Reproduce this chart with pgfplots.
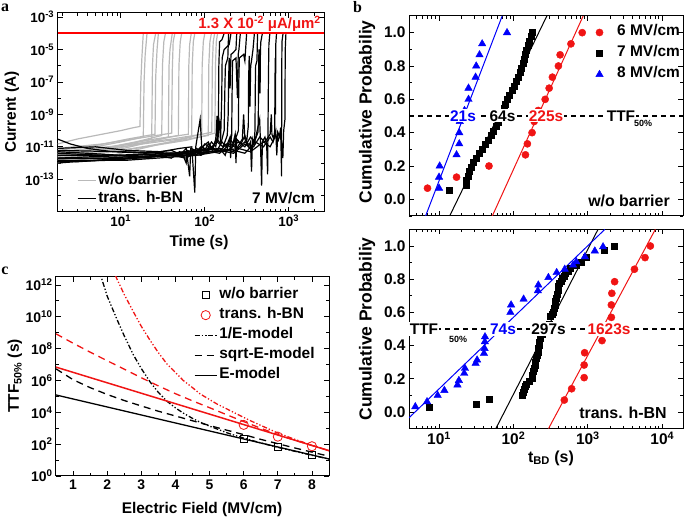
\documentclass[border=0pt]{standalone}
\usepackage{fontspec}
\setmainfont{Liberation Sans}
\newfontfamily\serifb{Liberation Serif}
\usepackage{pgfplots}
\pgfplotsset{compat=1.18}
\newcommand{\fs}[1]{\fontsize{#1}{#1}\selectfont\bfseries}
\definecolor{lg}{RGB}{185,185,185}
\definecolor{rd}{RGB}{240,20,20}
\definecolor{bl}{RGB}{0,0,250}
\pgfplotsset{myax/.style={scale only axis, anchor=south west, tick align=inside,
  major tick length=5bp, minor tick length=3bp,
  axis line style={line width=1bp}, tick style={line width=0.8bp, black},
  clip=true}}
\begin{document}
\begin{tikzpicture}
\useasboundingbox (0,0) rectangle (685bp,519bp);
% ---------------- panel a ----------------
\begin{axis}[myax, at={(57.7bp,307.3bp)}, width=266.6bp, height=199bp,
  xmode=log, ymode=log, xmin=1.77, xmax=2650, ymin=1e-15, ymax=1.86e-3,
  xtick={10,100,1000}, xticklabels={10\textsuperscript{1},10\textsuperscript{2},10\textsuperscript{3}},
  minor xtick={2,3,4,5,6,7,8,9,20,30,40,50,60,70,80,90,200,300,400,500,600,700,800,900,2000},
  ytick={1e-13,1e-11,1e-9,1e-7,1e-5,1e-3},
  yticklabels={10\textsuperscript{-13},10\textsuperscript{-11},10\textsuperscript{-9},10\textsuperscript{-7},10\textsuperscript{-5},10\textsuperscript{-3}},
  minor ytick={1e-14,1e-12,1e-10,1e-8,1e-6,1e-4},
  tick label style={font=\fs{13.5}},
  legend style={draw=none, fill=none, at={(rel axis cs:0.072,0.205)}, anchor=north west, inner sep=0pt, row sep=0bp,
    nodes={inner sep=2bp, text height=11bp, text depth=3bp, font=\fs{15.5}}},
  legend cell align=left,
  legend image code/.code={\draw[#1] (0bp,0bp) -- (18bp,0bp);},
  every axis plot/.append style={line width=1.2bp}]
\addplot[lg] coordinates {(1.77,1.5e-11)(3,3e-11)(6,6e-11)(10,1e-10)(14,1.5e-10)(16.9,1.8e-10)(17.3,1e-7)(17.8,3e-6)(18.5,1e-4)};
\addlegendentry{w/o barrier}
\addplot[black] coordinates {(1.77,1.5e-12)(3,1.2e-12)(6,1.5e-12)(12,2e-12)(25,3e-12)(40,2e-12)(50,5e-12)(65,3e-12)(80,8e-12)(95,4e-12)(110,1.5e-11)(125,8e-12)(135,3e-11)(140,8e-10)(142,2e-11)(145,5e-11)(147,1e-6)(150,3e-5)(160,4e-5)(170,1e-4)};
\addlegendentry{trans. h-BN}
\addplot[lg,forget plot] coordinates {(1.77,4e-12)(4,8e-12)(10,2e-11)(18.5,4e-11)(18.9,1e-7)(19.5,5e-6)(20.5,1e-4)};
\addplot[lg,forget plot] coordinates {(1.77,2e-12)(5,5e-12)(12,1.5e-11)(23.3,3e-11)(23.8,1e-6)(24.5,2e-5)(26,1e-4)};
\addplot[lg,forget plot] coordinates {(1.77,6e-12)(5,1.2e-11)(12,3e-11)(25.5,6e-11)(26,2e-7)(27,1e-5)(28,1e-4)};
\addplot[lg,forget plot] coordinates {(1.77,3e-12)(6,8e-12)(15,2e-11)(30.7,5e-11)(31.3,1e-6)(32.5,3e-5)(34,1e-4)};
\addplot[lg,forget plot] coordinates {(1.77,1.5e-12)(6,4e-12)(15,1.2e-11)(36.8,4e-11)(37.5,1e-6)(38.5,1e-5)(41,1e-4)};
\addplot[lg,forget plot] coordinates {(1.77,8e-12)(6,1.5e-11)(20,4e-11)(40.3,7e-11)(41,5e-7)(42,3e-5)(44,1e-4)};
\addplot[lg,forget plot] coordinates {(1.77,2.5e-12)(8,7e-12)(20,2e-11)(48.4,5e-11)(49.2,1e-6)(51,3e-5)(53,1e-4)};
\addplot[lg,forget plot] coordinates {(1.77,3.5e-12)(8,1e-11)(25,3e-11)(63.7,6e-11)(64.5,1e-6)(66,2e-5)(69,1e-4)};
\addplot[lg,forget plot] coordinates {(1.77,1e-12)(8,3e-12)(30,1.5e-11)(69.8,4e-11)(70.8,1e-6)(73,3e-5)(76,1e-4)};
\addplot[lg,forget plot] coordinates {(1.77,5e-12)(10,1.2e-11)(40,3e-11)(91.8,6e-11)(93,1e-6)(96,3e-5)(100,1e-4)};
\addplot[lg,forget plot] coordinates {(1.77,2e-12)(10,6e-12)(40,2e-11)(110,5e-11)(111.5,1e-6)(115,3e-5)(120,1e-4)};
\addplot[lg,forget plot] coordinates {(1.77,4e-12)(10,1e-11)(50,3e-11)(121,8e-11)(123,1e-6)(126,3e-5)(131,1e-4)};
\addplot[lg,forget plot] coordinates {(1.77,2e-12)(15,8e-12)(60,2.5e-11)(132,7e-11)(134,1e-6)(137,3e-5)(142,1e-4)};
\addplot[black,forget plot] coordinates {(1.77,3e-11)(2.5,1.5e-11)(4,8e-12)(8,5e-12)(20,4e-12)(40,6e-12)(55,3e-12)(60,1e-12)(62,6e-12)(75,4e-12)(90,1e-11)(105,6e-12)(120,2e-11)(135,1e-11)(150,3e-10)(154,2e-11)(159,1e-8)(161,3e-6)(170,1e-5)(195,2e-5)(205,1e-4)};
\addplot[black,forget plot] coordinates {(1.77,5e-12)(4,4e-12)(10,3e-12)(20,2e-12)(35,4e-12)(50,3e-12)(60,8e-12)(66,1.5e-13)(68,8e-12)(85,5e-12)(100,1.5e-11)(120,8e-12)(140,3e-11)(155,1.5e-11)(170,1e-10)(174,1e-7)(176,1e-6)(188,3e-6)(192,1e-4)};
\addplot[black,forget plot] coordinates {(1.77,8e-12)(5,1e-11)(12,6e-12)(30,5e-12)(50,8e-12)(70,1e-11)(76,1.5e-14)(78,1e-11)(88,5e-10)(92,1e-11)(110,6e-12)(140,2e-11)(165,1e-11)(185,5e-11)(190,1e-9)(192,1e-7)(195,3e-6)(200,4e-8)(205,5e-6)(215,6e-6)(235,1e-5)(240,1e-4)};
\addplot[black,forget plot] coordinates {(1.77,2e-12)(5,2.5e-12)(15,3e-12)(40,4e-12)(60,3e-12)(80,6e-12)(100,4e-12)(120,1e-11)(140,6e-12)(160,2e-11)(180,1e-11)(200,4e-11)(203,2e-12)(206,3e-11)(209,5e-11)(211,1e-8)(214,2e-6)(235,3e-6)(245,1e-8)(250,5e-6)(255,1e-5)(265,1e-4)};
\addplot[black,forget plot] coordinates {(1.77,1e-12)(5,1.5e-12)(15,2e-12)(40,3e-12)(60,2e-12)(80,5e-12)(110,2e-11)(125,5e-12)(150,8e-12)(175,3e-12)(200,3e-11)(220,1.5e-11)(240,5e-11)(251,1e-10)(254,1e-7)(258,3e-6)(290,5e-6)(300,2e-6)(315,1e-4)};
\addplot[black,forget plot] coordinates {(1.77,4e-12)(6,3e-12)(20,2.5e-12)(60,4e-12)(90,3e-12)(120,8e-12)(150,5e-12)(180,1.5e-11)(210,8e-12)(230,6e-11)(235,1e-12)(240,3e-11)(270,1.5e-11)(300,5e-11)(315,2e-11)(330,2e-10)(332,1e-7)(338,4e-6)(345,3e-9)(352,1e-6)(360,2e-6)(375,1e-5)(390,1e-4)};
\addplot[black,forget plot] coordinates {(1.77,2e-12)(6,2e-12)(30,3e-12)(100,6e-12)(150,4e-12)(200,1.5e-11)(240,8e-12)(280,3e-11)(290,1e-9)(300,3e-11)(330,1e-11)(350,2e-11)(360,3e-13)(370,3e-11)(385,1.5e-11)(396,1e-10)(399,3e-8)(403,1e-6)(418,2e-6)(425,1e-4)};
\addplot[black,forget plot] coordinates {(1.77,3e-12)(8,3e-12)(40,4e-12)(120,8e-12)(180,5e-12)(250,2e-11)(300,1e-11)(350,4e-11)(390,2e-11)(430,8e-11)(434,1e-9)(437,2e-7)(441,1e-5)(455,2e-8)(460,1e-5)(465,3e-5)(485,1e-4)};
\addplot[black,forget plot] coordinates {(1.77,1.2e-12)(8,1.5e-12)(40,3e-12)(150,6e-12)(220,4e-12)(300,1.5e-11)(360,8e-12)(400,3e-11)(450,5e-10)(460,2e-11)(475,4e-14)(485,2e-11)(520,4e-11)(545,1.5e-11)(560,2e-13)(565,5e-11)(570,1e-8)(574,5e-7)(580,2e-5)(595,1e-4)};
\addplot[black,forget plot] coordinates {(1.77,6e-12)(10,5e-12)(50,4e-12)(150,8e-12)(220,5e-12)(300,2e-11)(380,1e-11)(450,4e-11)(520,2e-11)(600,6e-11)(620,1e-9)(630,6e-11)(660,3e-11)(680,1e-10)(686,1e-7)(690,3e-6)(695,1e-9)(700,2e-5)(715,1e-4)};
\addplot[black,forget plot] coordinates {(1.77,2e-12)(10,2e-12)(60,3e-12)(200,7e-12)(300,4e-12)(400,2e-11)(500,1e-11)(600,4e-11)(650,2e-11)(700,1e-10)(720,3e-12)(740,8e-11)(780,4e-11)(800,1.5e-10)(822,1.5e-13)(823,3e-9)(826,1e-6)(830,3e-5)(855,1e-4)};
\addplot[black,forget plot] coordinates {(1.77,1.5e-12)(12,1.5e-12)(80,3e-12)(250,8e-12)(350,5e-12)(500,2e-11)(600,1e-11)(700,5e-11)(750,2.5e-11)(800,1e-10)(850,2e-12)(870,1e-10)(901,5e-10)(904,1e-7)(908,1e-5)(925,1e-4)};
\addplot[draw=red, line width=1.8bp, forget plot] coordinates {(1.77,1e-4)(2650,1e-4)};
\end{axis}
% ---------------- panel b top ----------------
\begin{axis}[myax, at={(409bp,303bp)}, width=274bp, height=200bp,
  xmode=log, xmin=3.95, xmax=19000, ymin=-0.1, ymax=1.1,
  xtick={10,100,1000,10000}, xticklabels={},
  minor xtick={4,5,6,7,8,9,20,30,40,50,60,70,80,90,200,300,400,500,600,700,800,900,2000,3000,4000,5000,6000,7000,8000,9000},
  ytick={0,0.2,0.4,0.6,0.8,1.0}, yticklabels={0.0,0.2,0.4,0.6,0.8,1.0},
  minor ytick={-0.1,0.1,0.3,0.5,0.7,0.9},
  tick label style={font=\fs{15.5}},
  legend style={draw=none, fill=none, at={(rel axis cs:0.681,0.971)}, anchor=north west, inner sep=0pt, row sep=0bp,
    nodes={inner sep=2bp, text height=12bp, text depth=5bp, font=\fs{15.5}},
    /tikz/every odd column/.append style={column sep=12bp}},
  legend cell align=left,
  legend image code/.code={\draw[#1] plot coordinates {(4bp,0bp)};}]
\addplot[rd, line width=1bp, forget plot] coordinates {(52,-0.1)(865,1.1)};
\addplot[black, line width=1bp, forget plot] coordinates {(13.9,-0.1)(281,1.1)};
\addplot[bl, line width=1bp, forget plot] coordinates {(6.6,-0.1)(70.6,1.1)};
\addplot[rd, only marks, mark=*, mark size=3.6bp] coordinates {(7.0,0.067)(17.2,0.133)(46.9,0.2)(145,0.267)(154,0.333)(178,0.4)(190,0.467)(215,0.533)(267,0.6)(302,0.667)(334,0.733)(402,0.8)(424,0.867)(593,0.933)(840,1.0)};
\addlegendentry{6 MV/cm}
\addplot[black, only marks, mark=square*, mark size=3bp] coordinates {(13.7,0.054)(22.9,0.086)(23.5,0.113)(24.5,0.140)(25.5,0.167)(26.7,0.195)(29,0.222)(31.5,0.249)(34.5,0.276)(38,0.303)(41.5,0.330)(45.5,0.357)(50,0.384)(54,0.411)(59,0.438)(63,0.465)(67,0.492)(70,0.519)(74,0.546)(78,0.573)(83,0.600)(89,0.627)(96,0.654)(103,0.681)(110,0.708)(117,0.735)(122,0.762)(128,0.789)(134,0.816)(138,0.843)(143,0.870)(150,0.897)(157,0.924)(165,0.951)(172,0.978)(178,1.0)};
\addlegendentry{7 MV/cm}
\addplot[bl, only marks, mark=triangle*, mark size=4.3bp] coordinates {(10,0.067)(10,0.133)(10.2,0.2)(17.2,0.267)(18.7,0.333)(18.7,0.4)(19,0.467)(22,0.533)(24.9,0.6)(24.9,0.667)(31,0.733)(31.6,0.8)(35,0.867)(38,0.933)(82,1.0)};
\addlegendentry{8 MV/cm}
\addplot[black, line width=1.3bp, dash pattern=on 5bp off 4bp, forget plot] coordinates {(3.95,0.5)(19000,0.5)};
\end{axis}
% ---------------- panel b bottom ----------------
\begin{axis}[myax, at={(409bp,90.4bp)}, width=274bp, height=199.2bp,
  xmode=log, xmin=3.95, xmax=19000, ymin=-0.1, ymax=1.1,
  xtick={10,100,1000,10000}, xticklabels={10\textsuperscript{1},10\textsuperscript{2},10\textsuperscript{3},10\textsuperscript{4}},
  minor xtick={4,5,6,7,8,9,20,30,40,50,60,70,80,90,200,300,400,500,600,700,800,900,2000,3000,4000,5000,6000,7000,8000,9000},
  ytick={0,0.2,0.4,0.6,0.8,1.0}, yticklabels={0.0,0.2,0.4,0.6,0.8,1.0},
  minor ytick={-0.1,0.1,0.3,0.5,0.7,0.9},
  tick label style={font=\fs{15.5}}]
\addplot[rd, line width=1bp] coordinates {(296,-0.1)(8070,1.1)};
\addplot[black, line width=1bp] coordinates {(58,-0.1)(1370,1.1)};
\addplot[bl, line width=1bp] coordinates {(3.95,-0.035)(1690,1.1)};
\addplot[rd, only marks, mark=*, mark size=3.6bp] coordinates {(483,0.072)(606,0.14)(892,0.207)(892,0.283)(905,0.357)(1550,0.43)(1900,0.5)(2070,0.57)(2070,0.645)(2100,0.715)(2290,0.785)(4230,0.86)(5870,0.93)(6920,1.0)};
\addplot[black, only marks, mark=square*, mark size=3bp] coordinates {(7.3,0.026)(32,0.048)(47.9,0.076)(133,0.102)(137,0.122)(140,0.14)(144,0.155)(148,0.17)(165,0.188)(177,0.203)(181,0.223)(185,0.243)(190,0.263)(194,0.283)(198,0.303)(203,0.323)(207,0.343)(212,0.363)(217,0.383)(222,0.403)(225,0.423)(228,0.443)(240,0.47)(300,0.53)(311,0.58)(330,0.592)(343,0.604)(352,0.625)(360,0.645)(368,0.665)(376,0.685)(385,0.71)(394,0.735)(404,0.755)(413,0.775)(434,0.79)(454,0.805)(477,0.82)(500,0.835)(540,0.85)(577,0.865)(700,0.885)(824,0.905)(950,0.935)(1634,0.975)(2290,1.0)};
\addplot[bl, only marks, mark=triangle*, mark size=4.3bp] coordinates {(4.8,0.032)(6.9,0.062)(9.6,0.10)(11.8,0.13)(17.7,0.163)(18.5,0.19)(21.8,0.233)(22.3,0.263)(31,0.293)(32.5,0.313)(40.2,0.353)(40.9,0.383)(41.3,0.423)(41.5,0.453)(91,0.60)(93,0.645)(137,0.68)(213,0.73)(216,0.765)(295,0.81)(381,0.84)(489,0.86)(633,0.885)(700,0.905)(912,0.935)(1240,0.97)(1600,0.995)};
\addplot[black, line width=1.3bp, dash pattern=on 5bp off 4bp] coordinates {(3.95,0.5)(19000,0.5)};
\end{axis}
% ---------------- panel c ----------------
\begin{axis}[myax, at={(56bp,43bp)}, width=273bp, height=199bp,
  ymode=log, xmin=0.5, xmax=8.5, ymin=1, ymax=3.16e12,
  xtick={1,2,3,4,5,6,7,8}, xticklabels={1,2,3,4,5,6,7,8}, minor x tick num=1,
  ytick={1,1e2,1e4,1e6,1e8,1e10,1e12},
  yticklabels={10\textsuperscript{0},10\textsuperscript{2},10\textsuperscript{4},10\textsuperscript{6},10\textsuperscript{8},10\textsuperscript{10},10\textsuperscript{12}},
  minor ytick={1e1,1e3,1e5,1e7,1e9,1e11},
  tick label style={font=\fs{14}},
  legend style={draw=none, fill=none, at={(rel axis cs:0.505,0.96)}, anchor=north west, inner sep=0pt, row sep=0bp,
    nodes={inner sep=2bp, text height=11.5bp, text depth=4.5bp, font=\fs{15.5}}},
  legend cell align=left,
  legend image code/.code={\draw[mark repeat=2,mark phase=2,#1] plot coordinates {(0bp,0bp)(11bp,0bp)(22bp,0bp)};}]
\addplot[black, only marks, mark=square, mark size=3.6bp, mark options={line width=0.8bp}] coordinates {(6,225)(7,64)(8,21)};
\addlegendentry{w/o barrier}
\addplot[rd, only marks, mark=o, mark size=4.6bp, mark options={line width=0.8bp}] coordinates {(6,1623)(7,297)(8,74)};
\addlegendentry{trans. h-BN}
\addplot[black, line width=1.3bp, dash pattern=on 5bp off 2bp on 1.3bp off 2bp on 1.3bp off 2bp] coordinates {(1.75,1e13)(1.84,2.45e12)(2.0,2.0e11)(2.28,7.41e9)(2.5,6.31e8)(2.77,3.98e7)(3.0,5.62e6)(3.26,7.94e5)(3.5,1.78e5)(3.75,5.01e4)(4.0,1.91e4)(4.23,8.91e3)(4.5,4.17e3)(4.72,2.4e3)(5.0,1.35e3)(5.21,912)(5.5,525)(5.7,380)(6.0,240)(6.5,120)(7.0,63.1)(7.5,35.5)(8.0,20)(8.5,11.7)};
\addlegendentry{1/E-model}
\addplot[black, line width=1.3bp, dash pattern=on 7bp off 5bp] coordinates {(0.5,5.37e6)(1.0,1.12e6)(1.5,3.55e5)(2.0,1.32e5)(2.5,5.5e4)(3.0,2.51e4)(3.5,1.17e4)(4.0,5.89e3)(4.5,2.95e3)(5.0,1.48e3)(5.5,759)(6.0,398)(6.5,200)(7.0,107)(7.5,57.5)(8.0,31.6)(8.5,17.4)};
\addlegendentry{sqrt-E-model}
\addplot[black, line width=1.3bp] coordinates {(0.5,1.23e5)(8.5,11.7)};
\addlegendentry{E-model}
\addplot[rd, line width=1.3bp, dash pattern=on 5bp off 2bp on 1.3bp off 2bp on 1.3bp off 2bp, forget plot] coordinates {(2.1,2.51e13)(2.28,2.51e12)(2.5,2.51e11)(2.77,2.0e10)(3.0,2.51e9)(3.26,3.24e8)(3.5,5.62e7)(3.75,1.1e7)(4.0,3.16e6)(4.23,1e6)(4.5,3.55e5)(4.72,1.45e5)(5.0,6.31e4)(5.21,3.39e4)(5.5,1.66e4)(5.7,1e4)(6.0,4.79e3)(6.19,3.02e3)(6.5,1.51e3)(7.0,501)(7.5,200)(8.0,85.1)(8.5,38.9)};
\addplot[rd, line width=1.3bp, dash pattern=on 7bp off 5bp, forget plot] coordinates {(0.5,8.51e8)(1.0,2.19e8)(1.5,6.03e7)(2.0,1.74e7)(2.5,5.13e6)(3.0,1.48e6)(3.5,4.57e5)(4.0,1.48e5)(4.5,5.25e4)(5.0,1.95e4)(5.5,7.08e3)(6.0,2.63e3)(6.5,1e3)(7.0,398)(7.5,178)(8.0,83.2)(8.5,39.8)};
\addplot[rd, line width=1.5bp, forget plot] coordinates {(0.5,6.9e6)(8.5,38.9)};
\end{axis}
% ---------------- texts ----------------
\node[font=\serifb\fontsize{16}{16}\selectfont\bfseries] at (5bp,511bp) {a};
\node[font=\serifb\fontsize{16}{16}\selectfont\bfseries] at (357.5bp,512bp) {b};
\node[font=\serifb\fontsize{16}{16}\selectfont\bfseries] at (5bp,248bp) {c};
\node[font=\fs{15.5}, rotate=90] at (12bp,407bp) {Current (A)};
\node[font=\fs{15.5}] at (199bp,276bp) {Time (s)};
\node[font=\fs{15}, text=rd, anchor=base east, inner sep=0pt] at (321bp,490bp) {1.3 X 10\textsuperscript{-2} μA/μm\textsuperscript{2}};
\node[font=\fs{15.5}, anchor=east, inner sep=0pt] at (315bp,321bp) {7 MV/cm};
\node[font=\fs{17.5}, rotate=90] at (367bp,407bp) {Cumulative Probabiliy};
\node[font=\fs{17.5}, rotate=90] at (367bp,190bp) {Cumulative Probabiliy};
\node[font=\fs{16}] at (551bp,61bp) {t\textsubscript{BD} (s)};
\node[font=\fs{16}] at (629bp,318bp) {w/o barrier};
\node[font=\fs{16}] at (623bp,106bp) {trans. h-BN};
% TTF labels top
\node[font=\fs{15.5}, text=bl, fill=white, inner sep=1.2bp] at (463bp,403.2bp) {21s};
\node[font=\fs{15.5}, fill=white, inner sep=1.2bp] at (502.5bp,403.2bp) {64s};
\node[font=\fs{15.5}, text=rd, fill=white, inner sep=1.2bp] at (546bp,403.2bp) {225s};
\node[font=\fs{15.5}, fill=white, inner sep=1.2bp] at (621bp,403.2bp) {TTF};
\node[font=\fs{9}] at (643bp,396bp) {50\%};
% TTF labels bottom
\node[font=\fs{15.5}, fill=white, inner sep=1.2bp] at (424bp,190bp) {TTF};
\node[font=\fs{9}] at (458bp,180bp) {50\%};
\node[font=\fs{15.5}, text=bl, fill=white, inner sep=1.2bp] at (503bp,190bp) {74s};
\node[font=\fs{15.5}, fill=white, inner sep=1.2bp] at (548.5bp,190bp) {297s};
\node[font=\fs{15.5}, text=rd, fill=white, inner sep=1.2bp] at (609bp,190bp) {1623s};
% panel c labels
\node[font=\fs{15.5}, rotate=90] at (15bp,143bp) {TTF\textsubscript{50\%} (s)};
\node[font=\fs{15.5}] at (202bp,9bp) {Electric Field (MV/cm)};
\end{tikzpicture}
\end{document}
